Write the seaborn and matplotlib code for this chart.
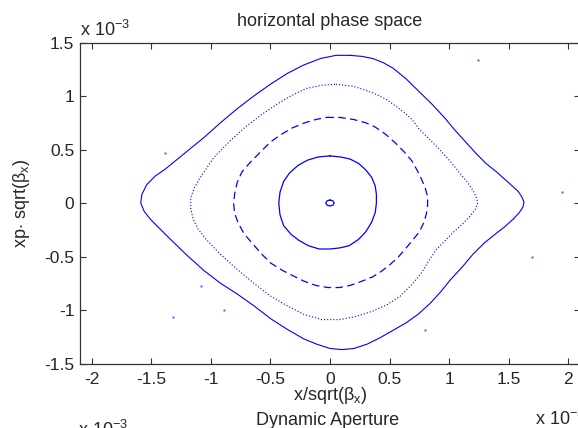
import numpy as np
import pandas as pd
import matplotlib
matplotlib.use("Agg")
import matplotlib.pyplot as plt
import seaborn as sns

# phase space traces, in units of 1e-3
outer_x = [0.17, 0.27, 0.36, 0.45, 0.53, 0.64, 0.75, 0.86, 0.96, 1.05, 1.14, 1.23, 1.31, 1.40,
           1.47, 1.53, 1.58, 1.61, 1.63, 1.62, 1.59, 1.54, 1.47, 1.39, 1.30, 1.20, 1.11, 1.01,
           0.93, 0.84, 0.74, 0.64, 0.53, 0.42, 0.31, 0.20, 0.10, 0.00, -0.11, -0.22, -0.36,
           -0.50, -0.64, -0.78, -0.92, -1.06, -1.20, -1.33, -1.43, -1.51, -1.56, -1.59, -1.58,
           -1.54, -1.47, -1.38, -1.27, -1.16, -1.05, -0.92, -0.78, -0.64, -0.50, -0.36, -0.22,
           -0.08, 0.05, 0.17]
outer_y = [1.38, 1.37, 1.35, 1.31, 1.26, 1.16, 1.04, 0.92, 0.80, 0.68, 0.57, 0.46, 0.37, 0.29,
           0.22, 0.16, 0.11, 0.06, 0.01, -0.04, -0.09, -0.15, -0.22, -0.29, -0.37, -0.48, -0.60,
           -0.72, -0.83, -0.94, -1.04, -1.12, -1.19, -1.26, -1.32, -1.36, -1.37, -1.36, -1.32,
           -1.27, -1.18, -1.08, -0.96, -0.85, -0.75, -0.63, -0.49, -0.35, -0.24, -0.15, -0.08,
           0.00, 0.08, 0.17, 0.25, 0.32, 0.42, 0.52, 0.62, 0.75, 0.88, 1.00, 1.11, 1.21, 1.29,
           1.35, 1.38, 1.38]

dotted_x = [0.05, 0.20, 0.36, 0.47, 0.56, 0.63, 0.69, 0.75, 0.84, 0.92, 1.01, 1.09, 1.15, 1.20,
            1.23, 1.24, 1.22, 1.18, 1.11, 1.03, 0.96, 0.89, 0.83, 0.77, 0.69, 0.59, 0.48, 0.36,
            0.22, 0.08, -0.07, -0.22, -0.36, -0.50, -0.64, -0.78, -0.92, -1.04, -1.11, -1.15,
            -1.17, -1.17, -1.14, -1.10, -1.04, -0.98, -0.84, -0.70, -0.57, -0.45, -0.33, -0.20,
            -0.07, 0.05]
dotted_y = [1.11, 1.09, 1.03, 0.97, 0.90, 0.84, 0.78, 0.69, 0.59, 0.50, 0.39, 0.28, 0.20, 0.12,
            0.05, 0.00, -0.06, -0.12, -0.20, -0.28, -0.36, -0.44, -0.54, -0.65, -0.76, -0.87,
            -0.95, -1.01, -1.06, -1.09, -1.09, -1.04, -0.96, -0.87, -0.75, -0.62, -0.48, -0.34,
            -0.24, -0.15, -0.05, 0.05, 0.14, 0.22, 0.32, 0.42, 0.58, 0.72, 0.83, 0.92, 1.00,
            1.07, 1.10, 1.11]

dashed_x = [-0.03, 0.08, 0.20, 0.30, 0.38, 0.47, 0.55, 0.63, 0.69, 0.73, 0.77, 0.80, 0.82, 0.82,
            0.81, 0.79, 0.75, 0.70, 0.64, 0.57, 0.50, 0.43, 0.36, 0.27, 0.17, 0.08, -0.02, -0.12,
            -0.22, -0.31, -0.40, -0.50, -0.58, -0.65, -0.72, -0.77, -0.80, -0.81, -0.80, -0.78,
            -0.74, -0.67, -0.59, -0.50, -0.41, -0.32, -0.21, -0.12, -0.03]
dashed_y = [0.80, 0.80, 0.78, 0.75, 0.71, 0.64, 0.56, 0.47, 0.39, 0.31, 0.22, 0.14, 0.06, -0.02,
            -0.10, -0.18, -0.27, -0.34, -0.42, -0.51, -0.58, -0.64, -0.69, -0.73, -0.77, -0.79,
            -0.79, -0.77, -0.73, -0.68, -0.63, -0.56, -0.47, -0.38, -0.29, -0.19, -0.10, 0.00,
            0.09, 0.19, 0.29, 0.38, 0.47, 0.57, 0.64, 0.70, 0.75, 0.78, 0.80]

inner_x = [0.00, 0.09, 0.17, 0.24, 0.30, 0.35, 0.38, 0.39, 0.39, 0.38, 0.35, 0.30, 0.24, 0.16,
           0.08, 0.00, -0.09, -0.18, -0.26, -0.33, -0.39, -0.42, -0.43, -0.42, -0.39, -0.34,
           -0.27, -0.19, -0.10, 0.00]
inner_y = [0.44, 0.43, 0.41, 0.37, 0.31, 0.24, 0.16, 0.08, 0.00, -0.09, -0.18, -0.27, -0.34,
           -0.40, -0.42, -0.43, -0.43, -0.40, -0.35, -0.29, -0.21, -0.11, 0.00, 0.10, 0.20,
           0.28, 0.35, 0.40, 0.43, 0.44]

tiny_x = [0.00, 0.025, 0.035, 0.025, 0.00, -0.025, -0.035, -0.025, 0.00]
tiny_y = [0.028, 0.02, 0.00, -0.02, -0.028, -0.02, 0.00, 0.02, 0.028]

stray_x = [1.24, 1.95, 1.70, -1.39, -1.08, -0.89, -1.32, 0.80]
stray_y = [1.34, 0.10, -0.50, 0.47, -0.78, -1.00, -1.07, -1.19]

xticks = [-2, -1.5, -1, -0.5, 0, 0.5, 1, 1.5, 2]
yticks = [-1.5, -1, -0.5, 0, 0.5, 1, 1.5]

sns.set_style("ticks")
plt.rcParams['font.family'] = ['Liberation Sans', 'DejaVu Sans']
plt.rcParams['mathtext.fontset'] = 'custom'
plt.rcParams['mathtext.rm'] = 'Liberation Sans'

fig = plt.figure(figsize=(5.78, 4.28), dpi=100)
ax = fig.add_axes([0.1384, 0.1507, 0.865, 0.75])

blue = '#0000ff'
sns.lineplot(x=outer_x, y=outer_y, sort=False, estimator=None, color=blue, lw=0.8, ax=ax)
sns.lineplot(x=dotted_x, y=dotted_y, sort=False, estimator=None, color=blue, lw=0.8,
             linestyle=(0, (1, 1.8)), ax=ax)
sns.lineplot(x=dashed_x, y=dashed_y, sort=False, estimator=None, color=blue, lw=0.9,
             linestyle=(0, (6, 3.5)), ax=ax)
sns.lineplot(x=inner_x, y=inner_y, sort=False, estimator=None, color=blue, lw=0.9, ax=ax)
sns.lineplot(x=tiny_x, y=tiny_y, sort=False, estimator=None, color=blue, lw=0.9, ax=ax)
sns.scatterplot(x=stray_x, y=stray_y, color='#6f6fff', s=3, linewidth=0, ax=ax)

ax.set_xlim(-2.1, 2.1)
ax.set_ylim(-1.5, 1.5)
ax.set_xticks(xticks)
ax.set_yticks(yticks)
ax.set_xticklabels([f"{t:g}" for t in xticks])
ax.set_yticklabels([f"{t:g}" for t in yticks])
ax.tick_params(direction='in', length=4, width=0.8, color='#333333', labelsize=12.5,
               top=True, right=True)
ax.tick_params(axis='x', pad=6)
ax.tick_params(axis='y', pad=4)
for s in ax.spines.values():
    s.set_visible(True)
    s.set_color('#333333')
    s.set_linewidth(0.9)

ax.set_title('horizontal phase space', fontsize=13, pad=12)
ax.set_xlabel(r'x/sqrt(β$_{\mathregular{x}}$)', fontsize=13, labelpad=-1)
ax.set_ylabel(r'xp$\cdot$ sqrt(β$_{\mathregular{x}}$)', fontsize=13, labelpad=9)

# exponent labels and the title of the subplot underneath
fig.text(80 / 578, 1 - 36 / 428, r'x 10$^{\mathregular{-3}}$', fontsize=13, ha='left', va='baseline')
fig.text(535 / 578, 1 - 425 / 428, r'x 10$^{\mathregular{-3}}$', fontsize=13, ha='left', va='baseline')
fig.text(78 / 578, 1 - 436 / 428, r'x 10$^{\mathregular{-3}}$', fontsize=13, ha='left', va='baseline')
fig.text(328 / 578, 1 - 425 / 428, 'Dynamic Aperture', fontsize=13, ha='center', va='baseline')

fig.savefig('out.png', dpi=100)
